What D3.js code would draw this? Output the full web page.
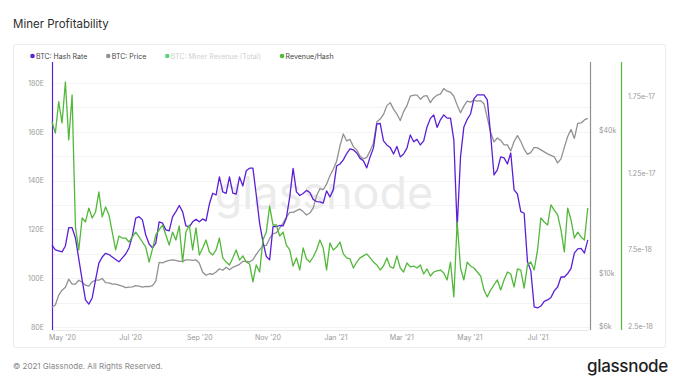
<!DOCTYPE html>
<html>
<head>
<meta charset="utf-8">
<script src="https://cdn.jsdelivr.net/npm/d3@7"></script>
<style>
  body { margin: 0; background: #fff; }
  svg { display: block; font-family: Inter, "Noto Sans", sans-serif; }
</style>
</head>
<body>
<svg id="chart" width="680" height="383"></svg>
<script>
// all three series are sampled every 3 days from 2020-04-22
var startDate = new Date(Date.UTC(2020, 3, 22));
var endDate = new Date(Date.UTC(2021, 7, 17));
var stepDays = 3;

// BTC hash rate, EH/s
var hashRate = [
  113.6, 111.6, 111.2, 110.8, 113.2, 120.7, 120.7, 116.5, 107.9, 99.3,
  91.1, 89.4, 91.9, 99.3, 106.2, 108.7, 110.2, 109.7, 108.7, 107.7,
  106.7, 108.3, 109.9, 112.4, 117.3, 124.6, 125.2, 123.9, 117.7, 114.0,
  112.4, 114.4, 123.1, 122.6, 119.8, 119.4, 125.1, 127.3, 129.8, 127.3,
  121.4, 121.0, 123.1, 124.1, 123.1, 124.3, 123.5, 130.4, 134.8, 134.1,
  141.5, 135.4, 134.8, 141.5, 134.9, 134.5, 141.5, 137.8, 144.0, 145.1,
  145.1, 134.1, 122.6, 114.9, 108.9, 107.5, 121.1, 121.1, 121.6, 121.4,
  124.7, 133.3, 145.0, 135.4, 133.9, 134.7, 136.0, 135.1, 132.3, 131.4,
  131.3, 130.8, 135.8, 133.3, 136.2, 146.0, 146.8, 148.5, 151.1, 153.0,
  152.6, 151.3, 149.1, 148.1, 145.2, 149.7, 153.4, 163.2, 163.4, 156.3,
  154.6, 153.6, 150.9, 154.0, 149.7, 150.9, 153.3, 158.7, 155.9, 156.9,
  154.6, 156.3, 162.0, 165.5, 166.9, 161.8, 164.9, 166.9, 165.6, 165.6,
  156.7, 120.6, 149.7, 162.0, 165.1, 167.3, 173.5, 175.1, 175.1, 175.1,
  173.1, 158.7, 142.3, 144.4, 149.7, 149.3, 146.8, 151.3, 136.2, 134.5,
  127.3, 126.6, 106.7, 103.0, 88.2, 87.8, 88.6, 90.5, 91.1, 92.1,
  94.8, 96.4, 100.5, 100.5, 101.9, 104.0, 110.3, 112.0, 112.2, 110.3,
  115.7
];

// BTC price, USD
var btcPrice = [
  7210, 7353, 8097, 8498, 8747, 9451, 9006, 9006, 9360, 9181,
  8919, 8833, 9207, 9360, 9360, 9515, 9140, 9124, 9006, 9006,
  8919, 8833, 8707, 8747, 8774, 8876, 8833, 8747, 8810, 8790,
  8876, 9270, 11137, 11083, 11245, 11354, 11410, 11354, 11245, 11245,
  11410, 11410, 11354, 11410, 11030, 10110, 9823, 9967, 9918, 10140,
  10460, 10309, 10610, 10360, 10610, 10766, 10925, 11245, 11245, 11170,
  11410, 12032, 12567, 13062, 13125, 14040, 14700, 14810, 15540, 16310,
  17280, 18090, 18100, 18403, 18670, 18226, 17620, 17970, 18850, 21273,
  22770, 22550, 23780, 25807, 27500, 29690, 34482, 38720, 36188, 36720,
  34250, 33180, 31150, 30420, 30850, 32856, 35490, 43480, 44770, 46820,
  51000, 52500, 49300, 46980, 44110, 48120, 51000, 55891, 56440, 56440,
  54300, 55891, 56160, 52500, 55080, 56440, 57000, 60160, 58657, 58090,
  55891, 51240, 47600, 50745, 53256, 52740, 53780, 53256, 53520, 51990,
  45320, 39280, 35840, 37250, 36360, 34820, 34820, 32856, 36010, 38090,
  36010, 33410, 31760, 32390, 33980, 33820, 33180, 32540, 31920, 31460,
  31000, 29260, 30420, 33980, 37800, 40440, 37070, 42900, 43100, 44390,
  45040
];

// miner revenue per hash, in units of 1e-18 USD
var revPerHash = [
  15.85, 15.11, 17.16, 15.77, 18.45, 14.66, 17.60, 8.97, 7.47, 9.56,
  9.30, 10.21, 9.56, 9.95, 11.26, 9.63, 10.28, 9.76, 8.64, 7.47,
  8.38, 8.25, 8.25, 7.99, 8.32, 8.64, 8.32, 7.99, 7.66, 6.68,
  7.53, 8.45, 8.78, 9.10, 8.45, 7.79, 8.64, 8.12, 9.04, 6.68,
  8.64, 9.10, 7.47, 8.91, 7.14, 7.60, 8.12, 7.34, 7.14, 7.47,
  8.25, 6.95, 6.68, 6.49, 6.95, 7.47, 6.81, 7.08, 6.68, 6.55,
  5.38, 6.49, 6.03, 8.12, 8.64, 10.34, 9.10, 9.10, 8.38, 8.64,
  7.79, 7.47, 6.42, 6.95, 6.16, 7.60, 6.88, 6.68, 7.01, 7.47,
  8.12, 7.60, 6.16, 7.93, 7.47, 7.66, 7.99, 7.21, 6.95, 6.88,
  6.29, 6.68, 6.95, 7.08, 7.21, 6.95, 6.68, 6.49, 6.16, 6.42,
  6.95, 6.36, 6.29, 7.08, 6.29, 6.03, 6.62, 6.36, 6.42, 6.29,
  6.49, 5.90, 6.23, 5.77, 6.03, 6.10, 6.16, 5.96, 5.51, 6.68,
  4.40, 9.30, 6.29, 5.51, 6.68, 6.42, 6.29, 6.03, 5.77, 4.85,
  4.40, 4.85, 5.18, 5.51, 4.85, 5.51, 6.03, 5.90, 5.05, 6.23,
  6.16, 4.98, 6.49, 6.68, 6.16, 7.47, 9.56, 9.30, 9.10, 10.41,
  10.08, 9.76, 8.78, 7.34, 10.21, 9.43, 8.25, 8.64, 8.32, 8.12,
  10.21
];

var legendNames = ['BTC: Hash Rate', 'BTC: Price', 'BTC: Miner Revenue (Total)', 'Revenue/Hash'];
var hashTicks = [80, 100, 120, 140, 160, 180];
var priceTicks = [6000, 10000, 40000];
var priceTickLabels = ['$6k', '$10k', '$40k'];
var revTicks = [2.5, 7.5, 12.5, 17.5];
var revTickLabels = ['2.5e-18', '7.5e-18', '1.25e-17', '1.75e-17'];

var purple = '#5a1fd6';
var grey = '#919191';
var green = '#52b83a';
var lightGreen = '#5fd47b';
var legendColors = [purple, grey, lightGreen, green];

var svg = d3.select('#chart');

var plot = { left: 52, right: 590, top: 62, bottom: 327 };

// title + card
svg.append('text')
  .attr('x', 13).attr('y', 28)
  .attr('font-size', 11.5)
  .attr('fill', '#2e2e2e')
  .text('Miner Profitability');

svg.append('rect')
  .attr('x', 13.5).attr('y', 44.5)
  .attr('width', 652).attr('height', 303)
  .attr('rx', 2)
  .attr('fill', '#fff')
  .attr('stroke', '#ebebeb');

var dates = hashRate.map(function(d, i) { return d3.utcDay.offset(startDate, i * stepDays); });

var x = d3.scaleUtc().domain([startDate, endDate]).range([plot.left, plot.right]);
var yHash = d3.scaleLinear().domain([80, 188.6]).range([plot.bottom, plot.top]);
var yPrice = d3.scaleLog().domain([5942, 77900]).range([plot.bottom, plot.top]);
var yRev = d3.scaleLinear().domain([2.435, 19.755]).range([plot.bottom, plot.top]);

// grid
svg.append('g')
  .selectAll('line')
  .data(yHash.ticks(10))
  .join('line')
  .attr('x1', plot.left).attr('x2', plot.right)
  .attr('y1', function(d) { return Math.round(yHash(d)) + 0.5; })
  .attr('y2', function(d) { return Math.round(yHash(d)) + 0.5; })
  .attr('stroke', '#f3f3f3');

// watermark
svg.append('text')
  .attr('x', (plot.left + plot.right) / 2 + 3)
  .attr('y', 209)
  .attr('text-anchor', 'middle')
  .attr('font-size', 45)
  .attr('fill', '#ebebeb')
  .text('glassnode');

// baseline under plot
svg.append('line')
  .attr('x1', plot.left).attr('x2', plot.right)
  .attr('y1', 330.5).attr('y2', 330.5)
  .attr('stroke', '#e8e8e8');

// axes
function styleAxis(g) {
  g.select('.domain').remove();
  g.selectAll('text').attr('fill', '#999').attr('font-size', 7).attr('font-family', 'Inter, sans-serif');
}

svg.append('g')
  .attr('transform', 'translate(' + plot.left + ',0)')
  .call(d3.axisLeft(yHash).tickValues(hashTicks).tickSize(0).tickPadding(8)
    .tickFormat(function(d) { return d + 'E'; }))
  .call(styleAxis);

svg.append('g')
  .attr('transform', 'translate(' + plot.right + ',0)')
  .call(d3.axisRight(yPrice).tickValues(priceTicks).tickSize(0).tickPadding(9)
    .tickFormat(function(d, i) { return priceTickLabels[i]; }))
  .call(styleAxis);

svg.append('g')
  .attr('transform', 'translate(621,0)')
  .call(d3.axisRight(yRev).tickValues(revTicks).tickSize(0).tickPadding(7)
    .tickFormat(function(d, i) { return revTickLabels[i]; }))
  .call(styleAxis);

svg.append('g')
  .attr('transform', 'translate(0,330)')
  .call(d3.axisBottom(x).ticks(d3.utcMonth.every(2)).tickSize(0).tickPadding(5)
    .tickFormat(d3.utcFormat("%b '%y")))
  .call(styleAxis);

// coloured axis lines
[[plot.left, purple], [plot.right, grey], [621, green]].forEach(function(a) {
  svg.append('line')
    .attr('x1', a[0] + 0.5).attr('x2', a[0] + 0.5)
    .attr('y1', plot.top).attr('y2', 330)
    .attr('stroke', a[1]).attr('stroke-width', 1.2);
});

// lines
function drawLine(values, yScale, color) {
  var line = d3.line()
    .x(function(d, i) { return x(dates[i]); })
    .y(function(d) { return yScale(d); });
  svg.append('path')
    .datum(values)
    .attr('d', line)
    .attr('fill', 'none')
    .attr('stroke', color)
    .attr('stroke-width', 1.3)
    .attr('stroke-linejoin', 'round');
}

drawLine(btcPrice, yPrice, grey);
drawLine(hashRate, yHash, purple);
drawLine(revPerHash, yRev, green);

// legend
var lx = 32.5;
legendNames.forEach(function(name, i) {
  svg.append('circle')
    .attr('cx', lx).attr('cy', 56)
    .attr('r', 2.3)
    .attr('fill', legendColors[i]);
  var t = svg.append('text')
    .attr('x', lx + 3.5).attr('y', 58.5)
    .attr('font-size', 7)
    .attr('fill', i === 2 ? '#cfcfcf' : '#444')
    .text(name);
  lx += 3.5 + t.node().getComputedTextLength() + 21;
});

// footer
svg.append('text')
  .attr('x', 13).attr('y', 369)
  .attr('font-size', 8)
  .attr('fill', '#888')
  .text('\u00a9 2021 Glassnode. All Rights Reserved.');

svg.append('text')
  .attr('x', 668).attr('y', 372)
  .attr('text-anchor', 'end')
  .attr('font-size', 17)
  .attr('font-weight', 500)
  .attr('letter-spacing', -0.3)
  .attr('fill', '#1e1e1e')
  .text('glassnode');
</script>
</body>
</html>
